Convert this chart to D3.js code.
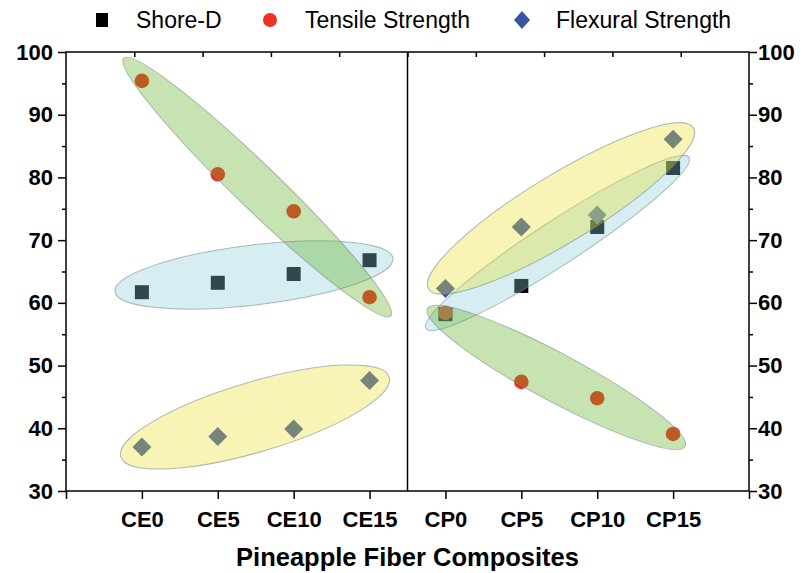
<!DOCTYPE html>
<html>
<head>
<meta charset="utf-8">
<script src="https://cdn.jsdelivr.net/npm/d3@7/dist/d3.min.js"></script>
<style>
  html, body { margin: 0; padding: 0; background: #fff; }
  svg { display: block; font-family: "Liberation Sans", Arial, sans-serif; }
</style>
</head>
<body>
<svg id="chart" width="800" height="573"></svg>
<script>
// Composite samples (epoxy and polypropylene matrices, 0–15 % pineapple fibre)
const categories = ["CE0", "CE5", "CE10", "CE15", "CP0", "CP5", "CP10", "CP15"];
const shoreD    = [61.7, 63.2, 64.6, 66.8, 58.2, 62.7, 72.1, 81.5];
const tensile   = [95.4, 80.5, 74.6, 60.9, 58.4, 47.4, 44.8, 39.1];
const flexural  = [37.0, 38.7, 39.9, 47.6, 62.3, 72.1, 74.0, 86.1];
const yTickValues = [30, 40, 50, 60, 70, 80, 90, 100];
const seriesNames = ["Shore-D", "Tensile Strength", "Flexural Strength"];

// Grouping ellipses: tips given as (category position, value), half-width in px
const groups = [
  { from: [-0.354, 61.8], to: [3.309, 67.1], hw: 30, fill: "rgb(138,206,218)" },
  { from: [-0.24, 99.0], to: [3.28, 57.9], hw: 22, fill: "rgb(95,175,35)" },
  { from: [-0.278, 35.45], to: [3.259, 48.15], hw: 35, fill: "rgb(232,224,46)" },
  { from: [3.744, 55.9], to: [7.209, 83.2], hw: 22, fill: "rgb(138,206,218)" },
  { from: [3.763, 59.07], to: [7.158, 37.13], hw: 24, fill: "rgb(95,175,35)" },
  { from: [3.778, 62.2], to: [7.267, 87.9], hw: 34, fill: "rgb(232,224,46)" }
];

const colors = { square: "#000000", circle: "#ee3124", diamond: "#3a53a4" };

const svg = d3.select("#chart");
const margin = { left: 66, right: 51, top: 52, bottom: 82 };
const W = 800, H = 573;
const x0 = margin.left, x1 = W - margin.right;
const y0 = H - margin.bottom, y1 = margin.top;

const x = d3.scalePoint().domain(categories).range([x0, x1]).padding(1);
const xPos = d3.scaleLinear().domain([-1, categories.length]).range([x0, x1]);
const y = d3.scaleLinear().domain([30, 100]).range([y0, y1]);

const plot = svg.append("g");

// Markers
const sq = 14, cr = 7.3, dm = 9.5;
plot.selectAll("rect.sd").data(shoreD).join("rect")
  .attr("x", (d, i) => x(categories[i]) - sq / 2)
  .attr("y", d => y(d) - sq / 2)
  .attr("width", sq).attr("height", sq)
  .attr("fill", colors.square);
plot.selectAll("circle.ts").data(tensile).join("circle")
  .attr("cx", (d, i) => x(categories[i]))
  .attr("cy", d => y(d))
  .attr("r", cr)
  .attr("fill", colors.circle);
plot.selectAll("path.fs").data(flexural).join("path")
  .attr("d", (d, i) => {
    const cx = x(categories[i]), cy = y(d);
    return `M${cx},${cy - dm}L${cx + dm},${cy}L${cx},${cy + dm}L${cx - dm},${cy}Z`;
  })
  .attr("fill", colors.diamond);

// Translucent group ellipses on top of the markers
plot.selectAll("ellipse").data(groups).join("ellipse")
  .each(function (g) {
    const ax = xPos(g.from[0]), ay = y(g.from[1]);
    const bx = xPos(g.to[0]), by = y(g.to[1]);
    const cx = (ax + bx) / 2, cy = (ay + by) / 2;
    const rx = Math.hypot(bx - ax, by - ay) / 2;
    const ang = Math.atan2(by - ay, bx - ax) * 180 / Math.PI;
    d3.select(this)
      .attr("cx", cx).attr("cy", cy)
      .attr("rx", rx).attr("ry", g.hw)
      .attr("transform", `rotate(${ang},${cx},${cy})`);
  })
  .attr("fill", g => g.fill)
  .attr("fill-opacity", 0.35)
  .attr("stroke", "#7d8c8c")
  .attr("stroke-opacity", 0.6)
  .attr("stroke-width", 1);

// Axes
const tickFont = g => g.selectAll("text")
  .attr("font-size", 22).attr("font-weight", "bold").attr("fill", "#000")
  .attr("font-family", "'Liberation Sans', Arial, sans-serif");
const axisStyle = g => {
  g.select(".domain").remove();
  g.selectAll("line").attr("stroke", "#000").attr("stroke-width", 1.5);
};

const minorY = d3.range(35, 100, 10);

// left
const left = svg.append("g").attr("transform", `translate(${x0},0)`);
left.call(d3.axisLeft(y).tickValues(yTickValues).tickSize(8).tickPadding(5).tickFormat(d3.format("d")))
  .call(axisStyle).call(tickFont);
left.append("g").call(d3.axisLeft(y).tickValues(minorY).tickSize(4).tickFormat(""))
  .call(axisStyle);

// right
const right = svg.append("g").attr("transform", `translate(${x1},0)`);
right.call(d3.axisRight(y).tickValues(yTickValues).tickSize(8).tickPadding(1).tickFormat(d3.format("d")))
  .call(axisStyle).call(tickFont);
right.append("g").call(d3.axisRight(y).tickValues(minorY).tickSize(4).tickFormat(""))
  .call(axisStyle);

// bottom
const bottom = svg.append("g").attr("transform", `translate(0,${y0})`);
bottom.call(d3.axisBottom(x).tickSize(8).tickPadding(12))
  .call(axisStyle).call(tickFont);
bottom.append("g").call(d3.axisBottom(xPos).tickValues([-1, categories.length]).tickSize(8).tickFormat(""))
  .call(axisStyle);

// top: inward ticks at tenths of the width
const xTop = d3.scaleLinear().domain([0, 10]).range([x0, x1]);
svg.append("g").attr("transform", `translate(0,${y1})`)
  .call(d3.axisBottom(xTop).tickValues(d3.range(1, 10)).tickSize(5).tickFormat(""))
  .call(axisStyle);

// frame and divider between the two composite families
svg.append("rect").attr("x", x0).attr("y", y1).attr("width", x1 - x0).attr("height", y0 - y1)
  .attr("fill", "none").attr("stroke", "#000").attr("stroke-width", 1.5);
const xd = xPos((categories.length - 1) / 2);
svg.append("line").attr("x1", xd).attr("x2", xd).attr("y1", y1).attr("y2", y0)
  .attr("stroke", "#000").attr("stroke-width", 1.5);

// x title
svg.append("text").attr("x", (x0 + x1) / 2).attr("y", 566)
  .attr("text-anchor", "middle").attr("font-size", 25.5).attr("font-weight", "bold")
  .text("Pineapple Fiber Composites");

// legend
const legend = svg.append("g").attr("transform", "translate(0,20)");
const legX = [102, 270, 522];
const legTx = [136, 305, 556];
legend.append("rect").attr("x", legX[0] - 6).attr("y", -7).attr("width", 12).attr("height", 14).attr("fill", colors.square);
legend.append("circle").attr("cx", legX[1]).attr("cy", 0).attr("r", 7).attr("fill", colors.circle);
legend.append("path").attr("d", `M${legX[2]},-9L${legX[2] + 8},0L${legX[2]},9L${legX[2] - 8},0Z`).attr("fill", colors.diamond);
legend.selectAll("text").data(seriesNames).join("text")
  .attr("x", (d, i) => legTx[i]).attr("y", 8)
  .attr("font-size", 23).attr("fill", "#000")
  .text(d => d);
</script>
</body>
</html>
